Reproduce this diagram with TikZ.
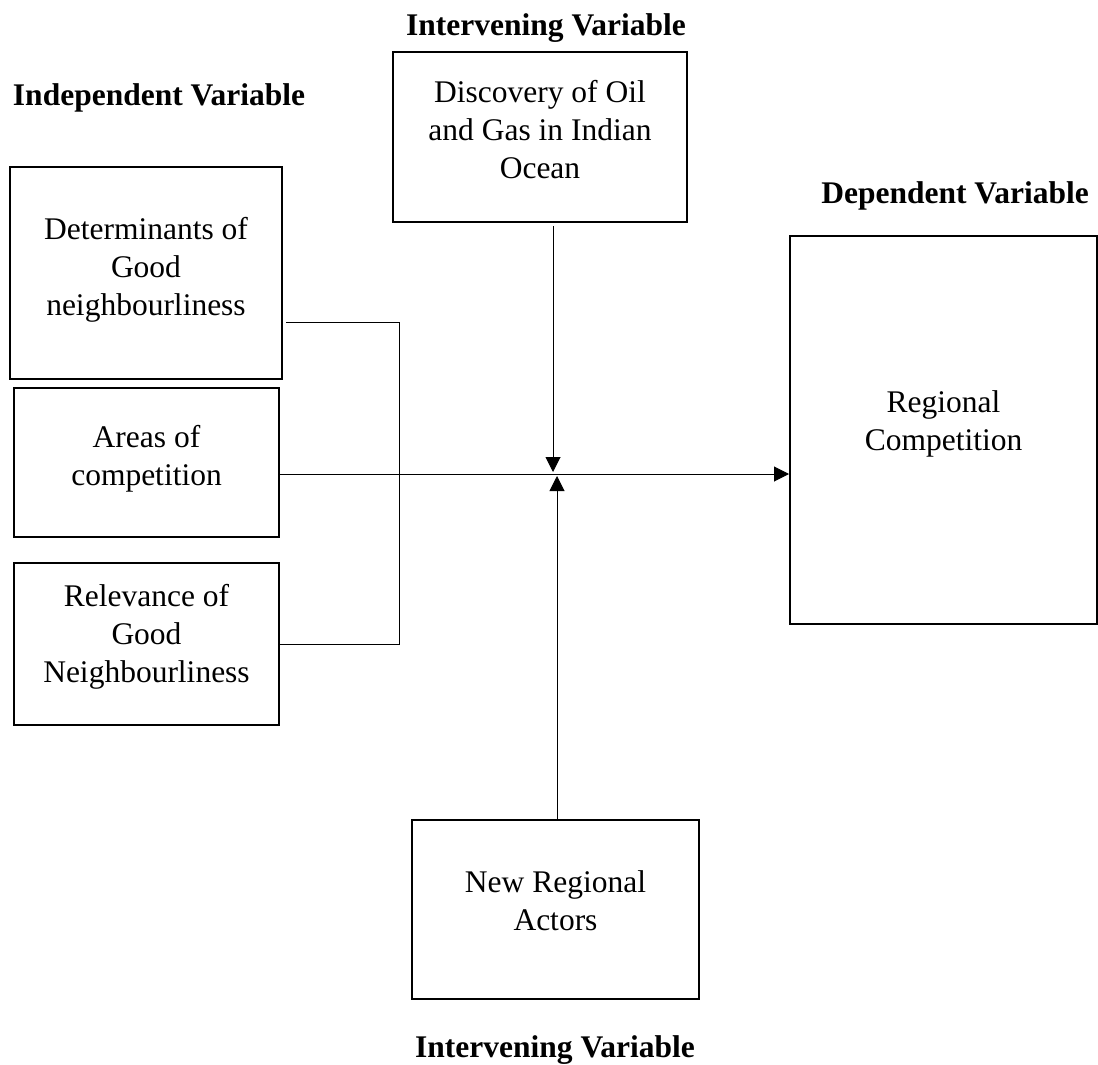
\documentclass[tikz,border=0pt]{standalone}
\usepackage{fontspec}
\setmainfont{Liberation Serif}
\usetikzlibrary{arrows.meta}
\begin{document}
\begin{tikzpicture}[x=1pt,y=-1pt,
  box/.style={draw, line width=2pt, rectangle, inner sep=0pt},
  boxtext/.style={anchor=north, inner sep=0pt, align=center, font=\fontsize{31.5}{38}\selectfont},
  title/.style={anchor=base, inner sep=0pt, font=\fontsize{31.5}{38}\selectfont\bfseries},
  conn/.style={line width=1pt},
  arr/.style={conn, -{Triangle[length=15pt,width=15pt]}}]
\useasboundingbox (0,0) rectangle (1098,1065);

% boxes
\node[box, minimum width=272pt, minimum height=212pt] (b1) at (146,273) {};
\node[box, minimum width=265pt, minimum height=149pt] (b2) at (146.5,462.5) {};
\node[box, minimum width=265pt, minimum height=162pt] (b3) at (146.5,644) {};
\node[box, minimum width=294pt, minimum height=170pt] (disc) at (540,137) {};
\node[box, minimum width=307pt, minimum height=388pt] (reg) at (943.5,430) {};
\node[box, minimum width=287pt, minimum height=179pt] (new) at (555.5,909.5) {};

% box texts
\node[boxtext] (x1) at (146,217) {Determinants of\\Good\\neighbourliness};
\node[boxtext] (x2) at (146.5,425) {Areas of\\competition};
\node[boxtext] (x3) at (146.5,584) {Relevance of\\Good\\Neighbourliness};
\node[boxtext] (x4) at (540,80) {Discovery of Oil\\and Gas in Indian\\Ocean};
\node[boxtext] (x5) at (943.5,390) {Regional\\Competition};
\node[boxtext] (x6) at (555.5,870) {New Regional\\Actors};

% titles
\node[title] (t1) at (546,36) {Intervening Variable};
\node[title] (t2) at (159,105) {Independent Variable};
\node[title] (t3) at (955,203) {Dependent Variable};
\node[title] (t4) at (555,1057) {Intervening Variable};

% connectors
\coordinate (j1) at (399,322);
\coordinate (j3) at (399,644);
\coordinate (c) at (555,474);
\coordinate (tipT) at (553,472);
\coordinate (tipB) at (557,476);
\draw[conn] ([xshift=3pt]b1.east |- j1) -- (j1) -- (j3) -- (b3.east |- j3);
\draw[arr] (b2.east |- c) -- (reg.west |- c);
\draw[arr] ([yshift=-3pt]disc.south -| tipT) -- (tipT);
\draw[arr] (new.north -| tipB) -- (tipB);
\end{tikzpicture}
\end{document}
